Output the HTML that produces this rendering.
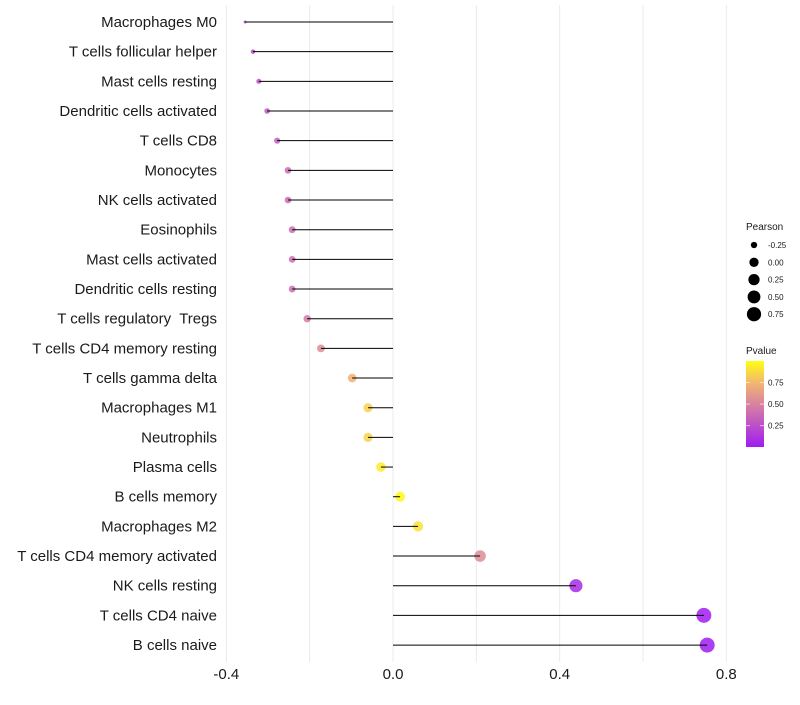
<!DOCTYPE html>
<html><head><meta charset="utf-8"><style>
body{margin:0;background:#fff;font-family:"Liberation Sans",sans-serif}
svg text{font-family:"Liberation Sans",sans-serif;white-space:pre}
</style></head><body>
<svg id="c" width="800" height="700" xmlns="http://www.w3.org/2000/svg">
<defs><linearGradient id="pg" x1="0" y1="1" x2="0" y2="0">
<stop offset="0" stop-color="#a01cf2"/><stop offset="0.5" stop-color="#d8839f"/><stop offset="0.75" stop-color="#f2b770"/><stop offset="1" stop-color="#ffff10"/></linearGradient></defs>
<g id="grid"></g><g id="marks"></g><g id="labels"></g>
</svg>
<script>
const categories=["Macrophages M0","T cells follicular helper","Mast cells resting","Dendritic cells activated","T cells CD8","Monocytes","NK cells activated","Eosinophils","Mast cells activated","Dendritic cells resting","T cells regulatory  Tregs ","T cells CD4 memory resting","T cells gamma delta","Macrophages M1","Neutrophils","Plasma cells","B cells memory","Macrophages M2","T cells CD4 memory activated","NK cells resting","T cells CD4 naive","B cells naive"];
const pearson=[-0.355,-0.336,-0.322,-0.302,-0.278,-0.252,-0.252,-0.242,-0.242,-0.242,-0.206,-0.173,-0.098,-0.06,-0.06,-0.029,0.017,0.06,0.209,0.439,0.746,0.754];
const pvalue=[0.2,0.22,0.25,0.28,0.32,0.38,0.38,0.4,0.4,0.4,0.45,0.55,0.72,0.84,0.84,0.93,0.98,0.9,0.55,0.07,0.002,0.002];
const xTicks=[-0.4,0.0,0.4,0.8];
const xTickLabels=["-0.4","0.0","0.4","0.8"];
const xGrid=[-0.4,-0.2,0,0.2,0.4,0.6,0.8];
const sizeBreaks=[-0.25,0,0.25,0.5,0.75];
const sizeLabels=["-0.25","0.00","0.25","0.50","0.75"];
const pBreaks=[0.25,0.5,0.75];
const pLabels=["0.25","0.50","0.75"];
const NS="http://www.w3.org/2000/svg";
const X=v=>393+v*416.7;
const Y=i=>22+i*29.67;
const R=v=>1.5+6*Math.sqrt(Math.max(0,(v+0.355)/1.11));
function col(p){const st=[[0,[160,28,242]],[0.5,[216,131,159]],[0.75,[242,183,112]],[1,[255,255,16]]];
for(let k=1;k<st.length;k++){if(p<=st[k][0]){const a=st[k-1],b=st[k],t=(p-a[0])/(b[0]-a[0]);return `rgb(${a[1].map((c,j)=>Math.round(c+(b[1][j]-c)*t)).join(',')})`;}}return 'rgb(255,255,16)';}
function mk(tag,at,par){const e=document.createElementNS(NS,tag);for(const k in at)e.setAttribute(k,at[k]);par.appendChild(e);return e;}
const g=document.getElementById('grid'),m=document.getElementById('marks'),l=document.getElementById('labels'),svg=document.getElementById('c');
xGrid.forEach(v=>{const e=mk('line',{x1:X(v),x2:X(v),y1:5,y2:662,stroke:'#ebebeb','stroke-width':1},g);

});
categories.forEach((c,i)=>{
const d=mk('circle',{cx:X(pearson[i]),cy:Y(i),r:R(pearson[i]),fill:col(pvalue[i]),'fill-opacity':0.85},m);


const s=mk('line',{x1:X(0),x2:X(pearson[i]),y1:Y(i),y2:Y(i),stroke:'#000','stroke-width':1},m);


const t=mk('text',{x:217,y:Y(i)+5,'text-anchor':'end','font-size':15,fill:'#1a1a1a'},l);t.textContent=c.replace(/\s+$/,'');


});
xTicks.forEach((v,i)=>{const t=mk('text',{x:X(v),y:679,'text-anchor':'middle','font-size':15,fill:'#1a1a1a'},l);t.textContent=xTickLabels[i];

});
const lg=mk('g',{},svg);
let t=mk('text',{x:746,y:230,'font-size':10,fill:'#1a1a1a'},lg);t.textContent='Pearson';

sizeBreaks.forEach((v,i)=>{const yy=245+i*17.3;
const c=mk('circle',{cx:754,cy:yy,r:R(v)*0.95,fill:'#000'},lg);

const tt=mk('text',{x:768,y:yy+3,'font-size':8,fill:'#1a1a1a'},lg);tt.textContent=sizeLabels[i];
});
t=mk('text',{x:746,y:354,'font-size':10,fill:'#1a1a1a'},lg);t.textContent='Pvalue';

const cb=mk('rect',{x:746,y:361,width:18,height:86,fill:'url(#pg)'},lg);

pBreaks.forEach((v,i)=>{const yy=447-(v-0.002)/(0.998)*86;
mk('line',{x1:746,x2:750,y1:yy,y2:yy,stroke:'#fff','stroke-opacity':0.6},lg);mk('line',{x1:760,x2:764,y1:yy,y2:yy,stroke:'#fff','stroke-opacity':0.6},lg);
const tt=mk('text',{x:768,y:yy+3,'font-size':8,fill:'#1a1a1a'},lg);tt.textContent=pLabels[i];
});
</script>
</body></html>
